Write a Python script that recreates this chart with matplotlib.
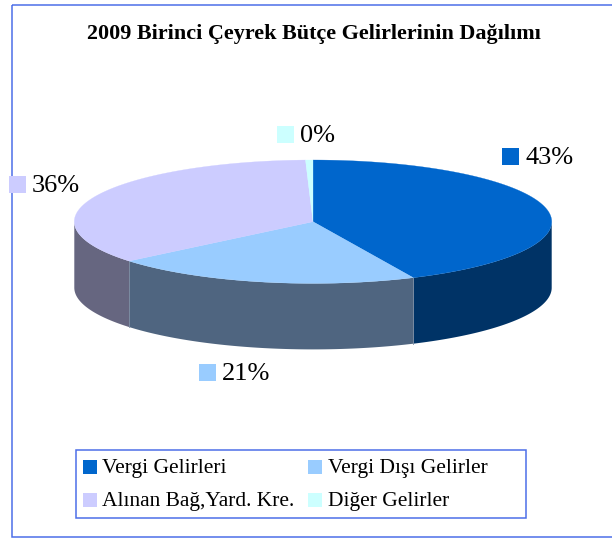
import numpy as np
import matplotlib
matplotlib.use("Agg")
import matplotlib.pyplot as plt
from matplotlib.patches import Rectangle, Polygon

W, H = 612, 538
plt.rcParams['font.family'] = ['Liberation Serif', 'DejaVu Serif']

title = "2009 Birinci Çeyrek Bütçe Gelirlerinin Dağılımı"
categories = ["Vergi Gelirleri", "Vergi Dışı Gelirler", "Alınan Bağ,Yard. Kre.", "Diğer Gelirler"]
values = [43.1, 20.9, 35.5, 0.5]
pct_labels = ["43%", "21%", "36%", "0%"]
top_colors = ["#0066CC", "#99CCFF", "#CCCCFF", "#CCFFFF"]
side_colors = ["#003366", "#4F6580", "#666680", "#668080"]
label_pos = [(502, 156.5), (199, 372), (9, 184.5), (277, 134.5)]
legend_pos = [(83, 467), (308, 467), (83, 500.3), (308, 500.3)]

fig = plt.figure(figsize=(W / 100, H / 100), dpi=100)
ax = fig.add_axes([0, 0, 1, 1])
ax.set_xlim(0, W)
ax.set_ylim(H, 0)
ax.axis("off")

cx, cy, a, b, depth = 313.0, 221.7, 238.7, 61.7, 66.0
frame = "#4D6FE8"

ax.add_patch(Rectangle((11.7, 5), 620, 531.5, fill=False, ec=frame, lw=1.1, zorder=1))

fr = np.cumsum([0] + values) / sum(values) * 2 * np.pi  # clockwise from top
def ell(t, dy=0.0):
    return np.column_stack([cx + a * np.sin(t), cy - b * np.cos(t) + dy])

# side walls (visible where the rim faces the viewer: angle between 90 and 270 deg)
for i in range(len(values)):
    lo, hi = max(fr[i], np.pi / 2), min(fr[i + 1], 3 * np.pi / 2)
    if hi <= lo:
        continue
    t = np.linspace(lo, hi, 200)
    pts = np.vstack([ell(t), ell(t[::-1], depth)])
    ax.add_patch(Polygon(pts, closed=True, fc=side_colors[i], ec="none", zorder=2))
    if i > 0 and lo == fr[i]:
        p = ell(np.array([lo, lo]), 0.0)
        p[1, 1] += depth
        ax.plot(p[:, 0], p[:, 1], color="#8090A5", lw=0.6, zorder=2.5)

# top face
for i in range(len(values)):
    t = np.linspace(fr[i], fr[i + 1], 300)
    pts = np.vstack([[cx, cy], ell(t)])
    ax.add_patch(Polygon(pts, closed=True, fc=top_colors[i], ec=top_colors[i], lw=0.2, zorder=3))

ax.text(313.5, 34.5, title, ha="center", va="center", fontsize=15.9, fontweight="bold", color="black", zorder=5)

# data labels
for (x, y), lab, c in zip(label_pos, pct_labels, top_colors):
    ax.add_patch(Rectangle((x, y - 8.5), 17, 17, fc=c, ec="none", zorder=5))
    ax.text(x + 23, y + 1.5, lab, ha="left", va="center", fontsize=19, color="black", zorder=6)

# legend
ax.add_patch(Rectangle((75.5, 449.5), 450, 68, fc="white", ec=frame, lw=1.1, zorder=4))
for (x, y), lab, c in zip(legend_pos, categories, top_colors):
    ax.add_patch(Rectangle((x, y - 7), 14, 14, fc=c, ec="none", zorder=5))
    ax.text(x + 19.5, y + 1.5, lab, ha="left", va="center", fontsize=15.5, color="black", zorder=6)

fig.savefig("out.png", dpi=100)
